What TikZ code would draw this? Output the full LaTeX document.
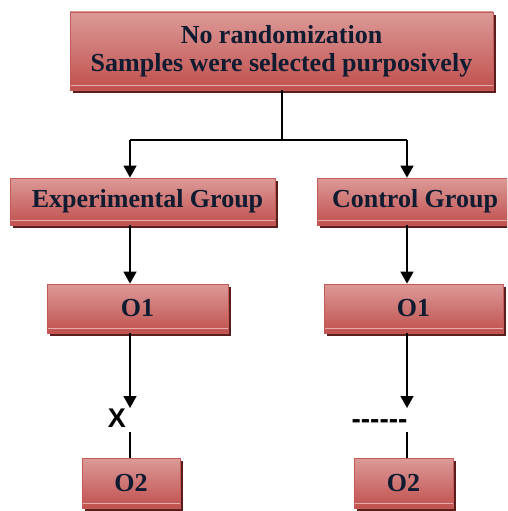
\documentclass[tikz,border=0pt]{standalone}
\usepackage{fontspec}
\setmainfont{Liberation Serif}
\newfontfamily\lsans{Liberation Sans}
\usetikzlibrary{arrows.meta,shadows}
\definecolor{boxtop}{HTML}{DC9A98}
\definecolor{boxbot}{HTML}{C0504D}
\definecolor{boxedge}{HTML}{C45A58}
\definecolor{shadowcol}{HTML}{5A1E1C}
\definecolor{txt}{HTML}{0F1B30}
\tikzset{
  box/.style={rectangle, draw=boxedge, line width=0.8pt,
    top color=boxtop, bottom color=boxbot, inner sep=0pt,
    general shadow={shadow xshift=3pt, shadow yshift=-3pt, fill=shadowcol},
    font=\fontsize{26}{28}\selectfont\bfseries, text=txt, align=center,
    path picture={\draw[boxtop!80!white, line width=1pt]
      ([yshift=4.5pt]path picture bounding box.south west) --
      ([yshift=4.5pt]path picture bounding box.south east);}},
  conn/.style={line width=1.5pt, black},
  arr/.style={conn, -{Triangle[width=13pt,length=12pt]}},
  symlabel/.style={inner sep=0pt, text=black, font=\lsans\fontsize{27}{27}\selectfont\bfseries}
}
\begin{document}
\begin{tikzpicture}[x=1pt,y=-1pt]
\useasboundingbox (0,0) rectangle (507,511);
\clip (0,0) rectangle (507,511);
% boxes
\node[box, minimum width=423pt, minimum height=78pt] (top) at (281.5,51)
  {No randomization\\Samples were selected purposively};
\node[box, minimum width=265pt, minimum height=47pt] (exp) at (142.5,201.5)
  {\hspace{10pt}Experimental Group};
\node[box, minimum width=196pt, minimum height=47pt] (ctl) at (415,201.5)
  {Control Group};
\node[box, minimum width=181pt, minimum height=49pt] (o1l) at (137.5,308.5) {O1};
\node[box, minimum width=179pt, minimum height=49pt] (o1r) at (413.5,308.5) {O1};
\node[box, minimum width=98pt, minimum height=50pt] (o2l) at (131,483) {O2};
\node[box, minimum width=99pt, minimum height=50pt] (o2r) at (403.5,483) {O2};
% marks
\node[symlabel] (xl) at (117,418) {X};
\node[symlabel, font=\lsans\fontsize{28}{28}\selectfont\bfseries] (dl) at (379.5,424) {------};
% connectors
\coordinate (split) at (282,140);
\coordinate (sl) at (130,140);
\coordinate (sr) at (407,140);
\draw[conn] (top.south -| split) -- (split);
\draw[conn] (sl) -- (sr);
\draw[arr] (sl) -- (sl |- exp.north);
\draw[arr] (sr) -- (sr |- ctl.north);
\draw[arr] (sl |- exp.south) -- (sl |- o1l.north);
\draw[arr] (sr |- ctl.south) -- (sr |- o1r.north);
\coordinate (tl) at (130,408);
\coordinate (tr) at (407,408);
\coordinate (bl) at (130,432);
\coordinate (br) at (407,432);
\draw[arr] (tl |- o1l.south) -- (tl);
\draw[arr] (tr |- o1r.south) -- (tr);
\draw[conn] (bl) -- (bl |- o2l.north);
\draw[conn] (br) -- (br |- o2r.north);
\end{tikzpicture}
\end{document}
